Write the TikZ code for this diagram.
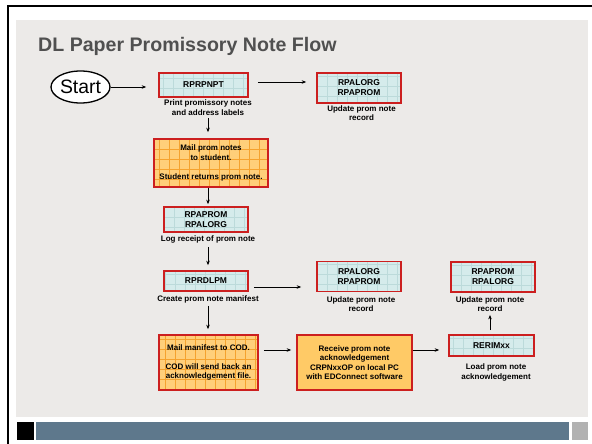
\documentclass[tikz,border=0pt]{standalone}
\usepackage{fontspec}
\setmainfont{Liberation Sans}
\usetikzlibrary{shapes.geometric,arrows.meta}

\definecolor{panelgray}{HTML}{ECEAE8}
\definecolor{boxred}{HTML}{CC1F1F}
\definecolor{progfill}{HTML}{D5EBEB}
\definecolor{proggrid}{HTML}{BCDADA}
\definecolor{mailfill}{HTML}{FFCF7A}
\definecolor{mailgrid}{HTML}{F5A22E}
\definecolor{taskfill}{HTML}{FFCA66}
\definecolor{barblue}{HTML}{5E788C}
\definecolor{bargray}{HTML}{B2B2B2}
\definecolor{titlegray}{HTML}{505050}

\begin{document}
\begin{tikzpicture}[x=1pt,y=-1pt,
  every node/.style={inner sep=0pt,align=center},
  prog/.style={draw=boxred,line width=1.6pt,fill=progfill,font=\fontsize{8.5}{10}\bfseries,
    path picture={\draw[proggrid,line width=0.4pt,step=10pt] (path picture bounding box.south west) grid (path picture bounding box.north east);}},
  manual/.style={draw=boxred,line width=1.6pt,fill=mailfill,font=\fontsize{8}{9.5}\bfseries,
    path picture={\draw[mailgrid,line width=0.5pt,step=10pt] (path picture bounding box.south west) grid (path picture bounding box.north east);}},
  task/.style={draw=boxred,line width=1.6pt,fill=taskfill,font=\fontsize{8}{9.5}\bfseries},
  note/.style={font=\fontsize{8}{9.5}\bfseries},
  flow/.style={-{Stealth[length=4.5pt,width=3.5pt]},line width=0.7pt}]
  \useasboundingbox (0,0) rectangle (592,444);
  % slide frame and footer
  \fill[panelgray] (16,20) rectangle (588,417);
  \draw[line width=2.2pt] (8,444) -- (8,6) -- (592,6);
  \fill[black] (17,422) rectangle (34,440);
  \fill[barblue] (36,422) rectangle (569,440);
  \fill[bargray] (572,422) rectangle (588,440);

  \node[anchor=base west,text=titlegray,font=\fontsize{19.6}{22}\bfseries] (title) at (38,52) {DL Paper Promissory Note Flow};

  % steps
  \node[ellipse,draw,line width=1.3pt,fill=white,minimum width=59pt,minimum height=32pt,font=\fontsize{19.4}{22}\selectfont] (start) at (80.5,87) {Start};
  \node[prog,minimum width=89pt,minimum height=24pt] (prnpt) at (203.5,85) {RPRPNPT};
  \node[note] (prnptL) at (208,107.5) {Print promissory notes\\and address labels};
  \node[prog,minimum width=84pt,minimum height=30pt] (updA) at (359,88) {RPALORG\\RPAPROM};
  \node[note] (updAL) at (361.5,113) {Update prom note\\record};
  \node[manual,minimum width=114pt,minimum height=48pt] (mail1) at (211,163) {Mail prom notes\\to student.\\[9.5pt]Student returns prom note.};
  \node[prog,minimum width=84pt,minimum height=25pt] (logrc) at (206,219.5) {RPAPROM\\RPALORG};
  \node[note] (logrcL) at (208,239) {Log receipt of prom note};
  \node[prog,minimum width=84pt,minimum height=20pt] (dlpm) at (206,281) {RPRDLPM};
  \node[note] (dlpmL) at (208,299) {Create prom note manifest};
  \node[prog,minimum width=84pt,minimum height=30pt] (updB) at (359,276.5) {RPALORG\\RPAPROM};
  \node[note] (updBL) at (361,304) {Update prom note\\record};
  \node[manual,minimum width=99pt,minimum height=55pt] (mail2) at (208.5,362.5) {Mail manifest to COD.\\[9.5pt]COD will send back an\\acknowledgement file.};
  \node[task,minimum width=115pt,minimum height=55pt] (recv) at (354.5,362.5) {Receive prom note\\acknowledgement\\CRPNxxOP on local PC\\with EDConnect software};
  \node[prog,minimum width=85pt,minimum height=21pt] (rerim) at (491.5,345.5) {RERIMxx};
  \node[note] (rerimL) at (496,372.5) {Load prom note\\acknowledgement};
  \node[prog,minimum width=84pt,minimum height=30pt] (updC) at (493,277) {RPAPROM\\RPALORG};
  \node[note] (updCL) at (490,304) {Update prom note\\record};

  % arrows
  \draw[flow,shorten >=12pt] (start) -- (start -| prnpt.west);
  \draw[flow,shorten <=9pt,shorten >=10pt] ([yshift=3pt]prnpt.east) -- ([yshift=3pt]prnpt.east -| updA.west);
  \draw[flow,shorten <=3pt,shorten >=6pt] (prnptL.south) -- (prnptL.south |- mail1.north);
  \draw[flow,shorten >=2pt] ([xshift=-3pt]mail1.south) -- ([xshift=-3pt]mail1.south |- logrc.north);
  \draw[flow,shorten <=4pt,shorten >=5pt] (logrcL.south) -- (logrcL.south |- dlpm.north);
  \draw[flow,shorten <=5pt,shorten >=15pt] ([yshift=-6pt]dlpm.east) -- ([yshift=-6pt]dlpm.east -| updB.west);
  \draw[flow,shorten <=3pt,shorten >=5pt] (dlpmL.south) -- (dlpmL.south |- mail2.north);
  \draw[flow,shorten <=5pt,shorten >=5pt] ([yshift=12.5pt]mail2.east) -- ([yshift=12.5pt]mail2.east -| recv.west);
  \draw[flow,shorten >=9pt] ([yshift=12.5pt]recv.east) -- ([yshift=12.5pt]recv.east -| rerim.west);
  \draw[flow,shorten <=4pt,shorten >=3pt] (rerim.north -| updCL.south) -- (updCL.south);
\end{tikzpicture}
\end{document}
